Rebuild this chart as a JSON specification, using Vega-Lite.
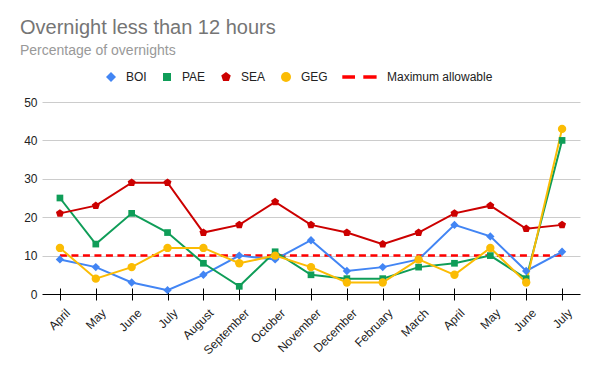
{
  "$schema": "https://vega.github.io/schema/vega-lite/v6.json",
  "width": 538,
  "height": 192,
  "autosize": {"type": "none"},
  "padding": {"left": 42, "top": 102, "right": 14, "bottom": 72},
  "background": "#ffffff",
  "title": {
    "text": "Overnight less than 12 hours",
    "subtitle": "Percentage of overnights",
    "anchor": "start",
    "frame": "group",
    "dx": -22,
    "offset": 13,
    "font": "Liberation Sans",
    "fontSize": 20,
    "fontWeight": "normal",
    "color": "#757575",
    "subtitleFont": "Liberation Sans",
    "subtitleFontSize": 14,
    "subtitleColor": "#999999",
    "subtitlePadding": 6
  },
  "data": {
    "values": [
      {"m": "01 April", "BOI": 9, "PAE": 25, "SEA": 21, "GEG": 12, "Maximum allowable": 10},
      {"m": "02 May", "BOI": 7, "PAE": 13, "SEA": 23, "GEG": 4, "Maximum allowable": 10},
      {"m": "03 June", "BOI": 3, "PAE": 21, "SEA": 29, "GEG": 7, "Maximum allowable": 10},
      {"m": "04 July", "BOI": 1, "PAE": 16, "SEA": 29, "GEG": 12, "Maximum allowable": 10},
      {"m": "05 August", "BOI": 5, "PAE": 8, "SEA": 16, "GEG": 12, "Maximum allowable": 10},
      {"m": "06 September", "BOI": 10, "PAE": 2, "SEA": 18, "GEG": 8, "Maximum allowable": 10},
      {"m": "07 October", "BOI": 9, "PAE": 11, "SEA": 24, "GEG": 10, "Maximum allowable": 10},
      {"m": "08 November", "BOI": 14, "PAE": 5, "SEA": 18, "GEG": 7, "Maximum allowable": 10},
      {"m": "09 December", "BOI": 6, "PAE": 4, "SEA": 16, "GEG": 3, "Maximum allowable": 10},
      {"m": "10 February", "BOI": 7, "PAE": 4, "SEA": 13, "GEG": 3, "Maximum allowable": 10},
      {"m": "11 March", "BOI": 9, "PAE": 7, "SEA": 16, "GEG": 9, "Maximum allowable": 10},
      {"m": "12 April", "BOI": 18, "PAE": 8, "SEA": 21, "GEG": 5, "Maximum allowable": 10},
      {"m": "13 May", "BOI": 15, "PAE": 10, "SEA": 23, "GEG": 12, "Maximum allowable": 10},
      {"m": "14 June", "BOI": 6, "PAE": 4, "SEA": 17, "GEG": 3, "Maximum allowable": 10},
      {"m": "15 July", "BOI": 11, "PAE": 40, "SEA": 18, "GEG": 43, "Maximum allowable": 10}
    ]
  },
  "transform": [
    {"fold": ["BOI", "PAE", "SEA", "GEG", "Maximum allowable"], "as": ["series", "value"]}
  ],
  "encoding": {
    "x": {
      "field": "m",
      "type": "ordinal",
      "scale": {"type": "point", "padding": 0.5},
      "axis": {
        "title": null,
        "labelAngle": -45,
        "labelAlign": "right",
        "labelBaseline": "top",
        "labelFont": "Liberation Sans",
        "labelFontSize": 12,
        "labelColor": "#222222",
        "labelPadding": 7,
        "labelOffset": 4,
        "tickColor": "#000000",
        "tickSize": 12,
        "offset": -6,
        "domain": false,
        "labelExpr": "substring(datum.value, 3)"
      }
    },
    "y": {
      "field": "value",
      "type": "quantitative",
      "scale": {"domain": [0, 50]},
      "axis": {
        "title": null,
        "values": [0, 10, 20, 30, 40, 50],
        "ticks": false,
        "domain": false,
        "labelPadding": 5,
        "labelFont": "Liberation Sans",
        "labelFontSize": 12,
        "labelColor": "#222222",
        "gridColor": {"condition": {"test": "datum.value === 0", "value": "#000000"}, "value": "#cccccc"},
        "gridWidth": 1
      }
    }
  },
  "layer": [
    {
      "transform": [{"filter": "datum.series === 'Maximum allowable'"}],
      "mark": {"type": "line", "color": "#ff0000", "strokeWidth": 2.5, "strokeDash": [7, 4.5]}
    },
    {
      "transform": [{"filter": "datum.series !== 'Maximum allowable'"}],
      "mark": {"type": "line", "strokeWidth": 2},
      "encoding": {
        "stroke": {
          "field": "series",
          "type": "nominal",
          "scale": {"domain": ["BOI", "PAE", "SEA", "GEG", "Maximum allowable"], "range": ["#4285f4", "#0f9d58", "#cc0000", "#fbbc04", "#ff0000"]}
        }
      }
    },
    {
      "transform": [{"filter": "datum.series !== 'Maximum allowable'"}],
      "mark": {"type": "point", "filled": true, "opacity": 1, "size": 70},
      "encoding": {
        "fill": {
          "field": "series",
          "type": "nominal",
          "scale": {"domain": ["BOI", "PAE", "SEA", "GEG", "Maximum allowable"], "range": ["#4285f4", "#0f9d58", "#cc0000", "#fbbc04", "#ff0000"]}
        },
        "shape": {
          "field": "series",
          "type": "nominal",
          "scale": {
            "domain": ["BOI", "PAE", "SEA", "GEG", "Maximum allowable"],
            "range": ["diamond", "M-0.8,-0.8H0.8V0.8H-0.8Z", "M0,-1L0.951,-0.309L0.588,0.809L-0.588,0.809L-0.951,-0.309Z", "circle", "M-5.94,-0.35H-3.4V0.35H-5.94Z M-1.74,-0.35H0.92V0.35H-1.74Z"]
          }
        }
      }
    }
  ],
  "config": {
    "view": {"stroke": null},
    "legend": {
      "title": null,
      "orient": "none",
      "legendX": 63,
      "legendY": -31,
      "direction": "horizontal",
      "symbolSize": 100,
      "symbolStrokeWidth": 0,
      "labelFont": "Liberation Sans",
      "labelFontSize": 12,
      "labelColor": "#222222",
      "labelOffset": 9,
      "columnPadding": 14,
      "padding": 0
    }
  }
}
